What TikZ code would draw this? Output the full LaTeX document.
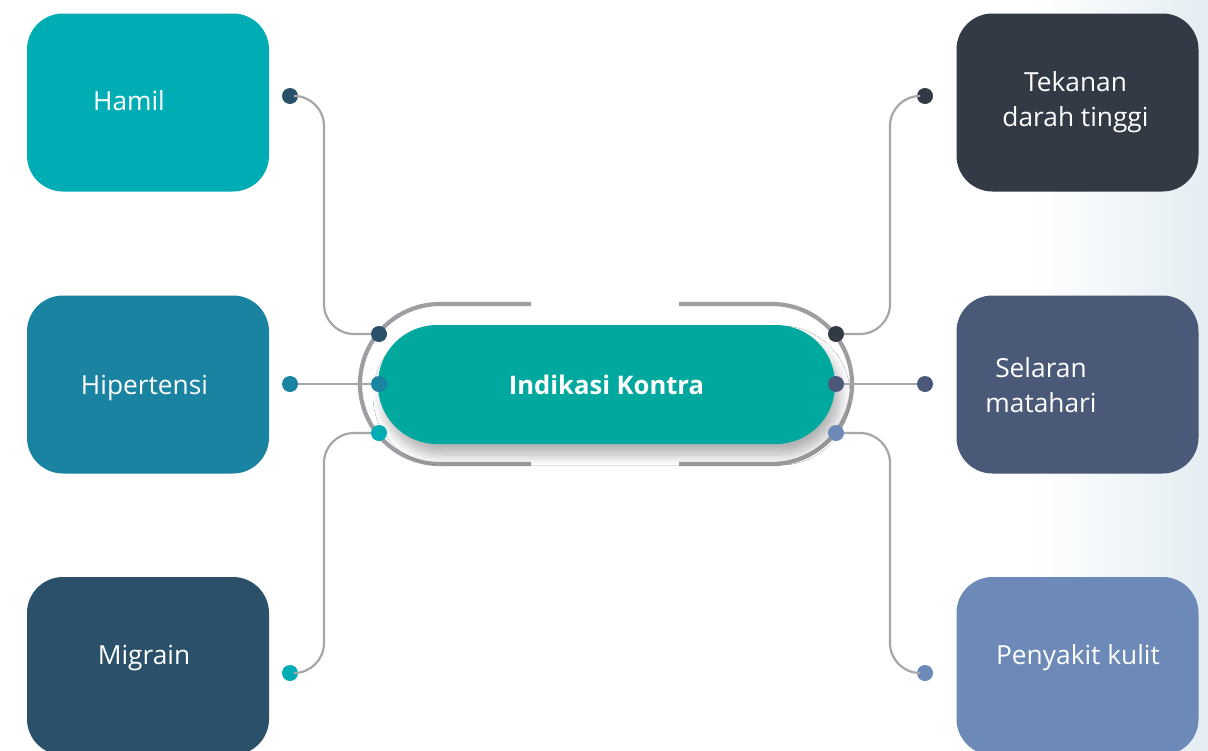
\documentclass[tikz,border=0pt]{standalone}
\usepackage{fontspec}
\setmainfont{Open Sans}
\usetikzlibrary{shadows.blur}
\definecolor{cHamil}{HTML}{00ADB5}
\definecolor{cHiper}{HTML}{1A83A1}
\definecolor{cMigr}{HTML}{2A5169}
\definecolor{cTek}{HTML}{323A46}
\definecolor{cSel}{HTML}{4B5978}
\definecolor{cPeny}{HTML}{6C89B8}
\definecolor{cPill}{HTML}{00A89D}
\definecolor{cRing}{HTML}{9D9DA2}
\definecolor{cLine}{HTML}{A6A6AB}
\definecolor{cBg}{HTML}{E4EDF2}
\tikzset{
  box/.style={rounded corners=36pt, minimum width=242pt, minimum height=178pt, inner sep=0pt},
  lbl/.style={text=white, font=\fontsize{26.3}{35}\selectfont, align=center, inner sep=0pt},
  dot/.style={circle, minimum size=16pt, inner sep=0pt},
  conn/.style={draw=cLine, line width=2.2pt, rounded corners=30pt},
  ring/.style={draw=cRing, line width=4.2pt, rounded corners=80pt},
}
\begin{document}
\begin{tikzpicture}[x=1pt,y=-1pt]
\clip (0,0) rectangle (1208,750);
\fill[white] (0,0) rectangle (1208,750);
\shade[left color=white, right color=cBg] (1030,0) rectangle (1208,750);
% boxes
\node[box, fill=cHamil] (bHamil) at (148,102.5) {};
\node[box, fill=cHiper] (bHiper) at (148,384.5) {};
\node[box, fill=cMigr] (bMigr) at (148,666) {};
\node[box, fill=cTek] (bTek) at (1077.5,102.5) {};
\node[box, fill=cSel] (bSel) at (1077.5,384.5) {};
\node[box, fill=cPeny] (bPeny) at (1077.5,666) {};
% labels
\node[lbl, anchor=base] (tHamil) at (129,110) {Hamil};
\node[lbl, anchor=base] (tHiper) at (144.5,394) {Hipertensi};
\node[lbl, anchor=base] (tMigr) at (144,664) {Migrain};
\node[lbl] (tTek) at (1075.5,102) {Tekanan\\darah tinggi};
\node[lbl] (tSel) at (1041,385) {Selaran\\matahari};
\node[lbl, anchor=base] (tPeny) at (1078,664) {Penyakit kulit};
% ring brackets
\draw[ring] (531,304) -- (360,304) -- (360,464) -- (531,464);
\draw[ring] (679,304) -- (852,304) -- (852,464) -- (679,464);
% center pill
\node[fill=cPill, rounded corners=59pt, minimum width=457pt, minimum height=119pt, inner sep=0pt,
      blur shadow={shadow xshift=5pt, shadow yshift=-11pt, shadow blur steps=12, shadow opacity=30, shadow blur radius=10pt},
      text=white, font=\bfseries\fontsize{25.6}{30}\selectfont] (pill) at (606.5,384.5) {Indikasi Kontra};
% dots
\node[dot, fill=cMigr] (li1) at (379,334) {};
\node[dot, fill=cHiper] (li2) at (379,384) {};
\node[dot, fill=cHamil] (li3) at (379,433) {};
\node[dot, fill=cMigr] (lo1) at (290,96) {};
\node[dot, fill=cHiper] (lo2) at (290,384) {};
\node[dot, fill=cHamil] (lo3) at (290,673) {};
\node[dot, fill=cTek] (ri1) at (836,334) {};
\node[dot, fill=cSel] (ri2) at (836,384) {};
\node[dot, fill=cPeny] (ri3) at (836,433) {};
\node[dot, fill=cTek] (ro1) at (925,96) {};
\node[dot, fill=cSel] (ro2) at (925,384) {};
\node[dot, fill=cPeny] (ro3) at (925,673) {};
% connectors
\draw[conn] (lo1) -| (324,334) -- (li1);
\draw[conn] (lo2) -- (li2);
\draw[conn] (lo3) -| (324,433) -- (li3);
\draw[conn] (ro1) -| (890,334) -- (ri1);
\draw[conn] (ro2) -- (ri2);
\draw[conn] (ro3) -| (890,433) -- (ri3);
\end{tikzpicture}
\end{document}
